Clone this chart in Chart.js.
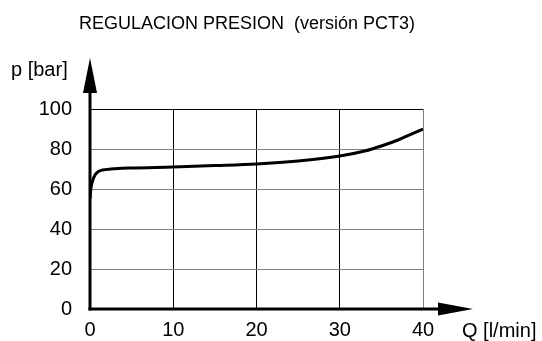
<!DOCTYPE html>
<html>
<head>
<meta charset="utf-8">
<script src="https://cdn.jsdelivr.net/npm/chart.js@4/dist/chart.umd.min.js"></script>
<style>
  html, body { margin: 0; padding: 0; background: #fff; }
  #wrap { width: 542px; height: 341px; }
</style>
</head>
<body>
<div id="wrap"><canvas id="chartPresion"></canvas></div>
<script>
const caudal = [0, 0.1, 0.3, 0.6, 1, 1.5, 2.5, 5, 10, 15, 20, 25, 30, 33, 35, 37, 40];
const presion = [55, 60, 64, 67, 68.7, 69.5, 70, 70.5, 71, 71.7, 72.5, 74, 76.5, 79, 81.5, 84.5, 90];
const ticksX = [0, 10, 20, 30, 40];
const ticksY = [0, 20, 40, 60, 80, 100];

const titulo = "REGULACION PRESION  (versión PCT3)";
const tituloX = "Q [l/min]";
const tituloY = "p [bar]";

const FUENTE = '"Liberation Sans", Arial, sans-serif';

const puntos = [];
for (let i = 0; i < caudal.length; i++) {
  puntos.push({ x: caudal[i], y: presion[i] });
}

// ejes con flecha y textos sueltos
const pluginEjes = {
  id: "ejes",
  afterDatasetsDraw: function (chart) {
    const ctx = chart.ctx;
    const a = chart.chartArea;
    const x0 = chart.scales.x.getPixelForValue(0);
    const y0 = chart.scales.y.getPixelForValue(0);

    ctx.save();
    ctx.strokeStyle = "#000";
    ctx.fillStyle = "#000";
    ctx.lineWidth = 3;

    // eje x
    ctx.beginPath();
    ctx.moveTo(x0 - 1.5, y0);
    ctx.lineTo(a.right + 20, y0);
    ctx.stroke();
    ctx.beginPath();
    ctx.moveTo(a.right + 15, y0 - 6.5);
    ctx.lineTo(a.right + 50, y0);
    ctx.lineTo(a.right + 15, y0 + 6.5);
    ctx.closePath();
    ctx.fill();

    // eje y
    ctx.beginPath();
    ctx.moveTo(x0, y0 + 1.5);
    ctx.lineTo(x0, a.top - 20);
    ctx.stroke();
    ctx.beginPath();
    ctx.moveTo(x0 - 7, a.top - 16);
    ctx.lineTo(x0, a.top - 51);
    ctx.lineTo(x0 + 7, a.top - 16);
    ctx.closePath();
    ctx.fill();

    ctx.textBaseline = "middle";
    ctx.font = "18px " + FUENTE;
    ctx.textAlign = "center";
    ctx.fillText(titulo, 247, 24);

    ctx.font = "20px " + FUENTE;
    ctx.textAlign = "left";
    ctx.fillText(tituloY, 11, 70);
    ctx.fillText(tituloX, 462, 331);
    ctx.restore();
  }
};

new Chart(document.getElementById("chartPresion"), {
  type: "scatter",
  data: {
    datasets: [
      {
        label: "Presión",
        data: puntos,
        showLine: true,
        borderColor: "#000",
        borderWidth: 3,
        pointRadius: 0,
        cubicInterpolationMode: "monotone",
        fill: false
      }
    ]
  },
  options: {
    responsive: true,
    maintainAspectRatio: false,
    animation: false,
    layout: { padding: { top: 109, right: 119, left: 0, bottom: 0 } },
    plugins: {
      legend: { display: false },
      title: { display: false },
      tooltip: { enabled: false }
    },
    scales: {
      x: {
        type: "linear",
        min: 0,
        max: 40,
        afterFit: function (s) { s.height = 32; },
        afterBuildTicks: function (s) {
          s.ticks = ticksX.map(function (v) { return { value: v }; });
        },
        border: { display: false },
        grid: {
          drawTicks: false,
          lineWidth: 1,
          color: function (c) {
            return c.tick && c.tick.value === 40 ? "#808080" : "#000";
          }
        },
        ticks: {
          padding: 9,
          color: "#000",
          font: { family: FUENTE, size: 20 }
        }
      },
      y: {
        type: "linear",
        min: 0,
        max: 100,
        afterFit: function (s) { s.width = 90; },
        afterBuildTicks: function (s) {
          s.ticks = ticksY.map(function (v) { return { value: v }; });
        },
        border: { display: false },
        grid: {
          drawTicks: false,
          lineWidth: 1,
          color: function (c) {
            return c.tick && c.tick.value === 100 ? "#000" : "#808080";
          }
        },
        ticks: {
          padding: 18,
          color: "#000",
          font: { family: FUENTE, size: 20 }
        }
      }
    }
  },
  plugins: [pluginEjes]
});
</script>
</body>
</html>
